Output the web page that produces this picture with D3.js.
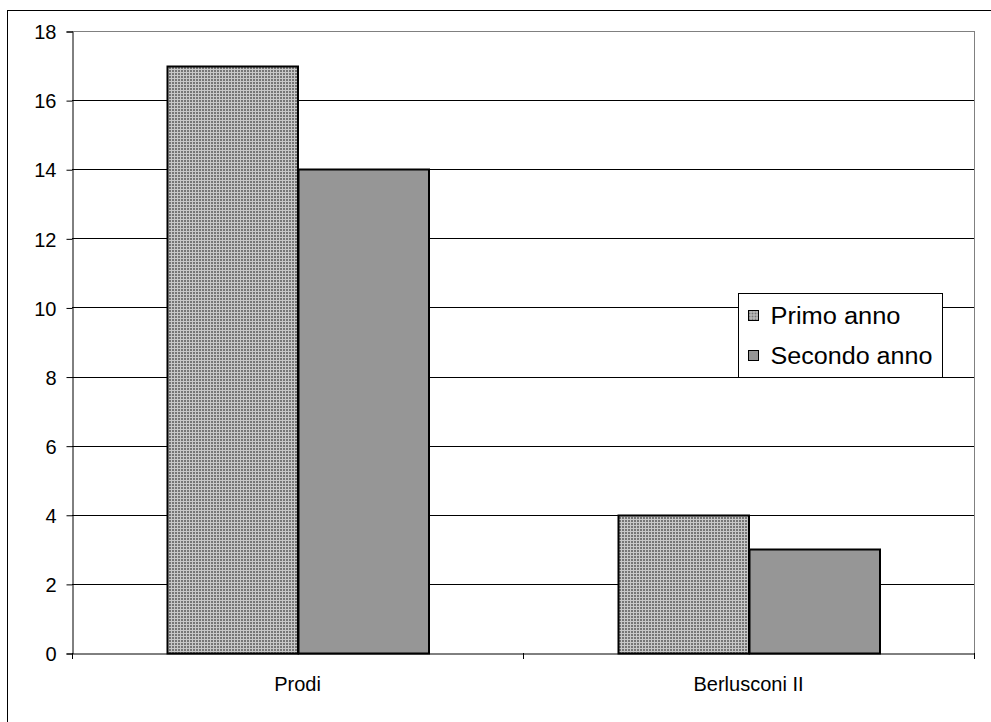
<!DOCTYPE html>
<html>
<head>
<meta charset="utf-8">
<script src="https://cdn.jsdelivr.net/npm/d3@7/dist/d3.min.js"></script>
<style>
html,body{margin:0;padding:0;background:#fff;}
svg{display:block;}
text{font-family:Arial,"Liberation Sans",sans-serif;fill:#000;}
</style>
</head>
<body>
<svg id="chart" width="991" height="722"></svg>
<script>
const categories = ["Prodi", "Berlusconi II"];
const seriesNames = ["Primo anno", "Secondo anno"];
const primoAnno = [17, 4];
const secondoAnno = [14, 3];
const yTicks = [0, 2, 4, 6, 8, 10, 12, 14, 16, 18];

const svg = d3.select("#chart");
const plot = {left: 72, right: 974, top: 31, bottom: 653};

// outer chart border
svg.append("rect").attr("x", 7.5).attr("y", 10.5).attr("width", 1000).attr("height", 1000)
  .attr("fill", "#fff").attr("stroke", "#000").attr("stroke-width", 1);

// pattern for Primo anno
const defs = svg.append("defs");
const pat = defs.append("pattern").attr("id", "dots").attr("patternUnits", "userSpaceOnUse")
  .attr("width", 3).attr("height", 3);
pat.append("rect").attr("width", 3).attr("height", 3).attr("fill", "#767676");
pat.append("rect").attr("x", 0).attr("y", 0).attr("width", 3).attr("height", 1).attr("fill", "#c8c8c8");
pat.append("rect").attr("x", 0).attr("y", 0).attr("width", 1).attr("height", 3).attr("fill", "#c8c8c8");

const x0 = d3.scaleBand().domain(categories).range([plot.left, plot.right]).paddingInner(0).paddingOuter(0);
const y = d3.scaleLinear().domain([0, 18]).range([plot.bottom, plot.top]);

// gridlines
svg.append("g").selectAll("line").data(yTicks.filter(d => d > 0)).join("line")
  .attr("x1", plot.left).attr("x2", plot.right)
  .attr("y1", d => Math.round(y(d)) + 0.5).attr("y2", d => Math.round(y(d)) + 0.5)
  .attr("stroke", d => d === 18 ? "#808080" : "#000").attr("stroke-width", 1);

// right plot border
svg.append("line").attr("x1", plot.right + 0.5).attr("x2", plot.right + 0.5)
  .attr("y1", plot.top).attr("y2", plot.bottom).attr("stroke", "#808080");

// bars
const fills = {"Primo anno": "url(#dots)", "Secondo anno": "#969696"};
const data = [];
categories.forEach((c, i) => {
  data.push({cat: c, s: "Primo anno", v: primoAnno[i]});
  data.push({cat: c, s: "Secondo anno", v: secondoAnno[i]});
});
const gapOuter = 95;
const barW = (x0.bandwidth() - 2 * gapOuter) / 2;
svg.append("g").selectAll("rect").data(data).join("rect")
  .attr("x", d => Math.round(x0(d.cat) + gapOuter + seriesNames.indexOf(d.s) * barW) + 0.5)
  .attr("y", d => Math.round(y(d.v)) + 0.5)
  .attr("width", barW)
  .attr("height", d => Math.round(y(0)) - Math.round(y(d.v)))
  .attr("fill", d => fills[d.s])
  .attr("stroke", "#000").attr("stroke-width", 2);

// y axis
const yAxis = d3.axisLeft(y).tickValues(yTicks).tickSize(6).tickPadding(10).tickFormat(d3.format("d"));
const gy = svg.append("g").attr("transform", `translate(${plot.left + 0.5},0.5)`).call(yAxis);
gy.select(".domain").attr("stroke", "#000");
gy.selectAll(".tick line").attr("stroke", "#000");
gy.selectAll("text").style("font-size", "20px").attr("dy", "0.36em")
  .style("font-family", "Arial, 'Liberation Sans', sans-serif");

// x axis
const xAxis = d3.axisBottom(x0).tickSize(0).tickPadding(23);
const gx = svg.append("g").attr("transform", `translate(0,${Math.round(plot.bottom) + 0.5})`).call(xAxis);
gx.select(".domain").attr("stroke", "#000");
gx.selectAll("text").style("font-size", "20px").style("font-family", "Arial, 'Liberation Sans', sans-serif");
const sepTicks = [plot.left, plot.left + x0.bandwidth(), plot.right];
svg.append("g").selectAll("line").data(sepTicks).join("line")
  .attr("x1", d => Math.round(d) + 0.5).attr("x2", d => Math.round(d) + 0.5)
  .attr("y1", plot.bottom).attr("y2", plot.bottom + 6).attr("stroke", "#000");

// legend
const lg = svg.append("g").attr("transform", "translate(738.5,293.5)");
lg.append("rect").attr("width", 204).attr("height", 84).attr("fill", "#fff").attr("stroke", "#000");
const lwid = [130, 162];
seriesNames.forEach((s, i) => {
  const yy = 17 + i * 40;
  lg.append("rect").attr("x", 10).attr("y", yy).attr("width", 10).attr("height", 10)
    .attr("fill", fills[s]).attr("stroke", "#000").attr("stroke-width", 1);
  lg.append("text").attr("x", 32).attr("y", yy + 13).text(s)
    .style("font-size", "23px")
    .attr("textLength", lwid[i]).attr("lengthAdjust", "spacingAndGlyphs");
});
</script>
</body>
</html>
